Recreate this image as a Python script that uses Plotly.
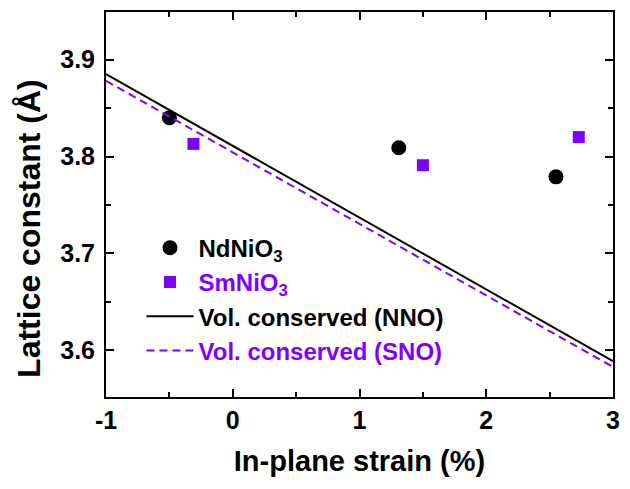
import plotly.graph_objects as go

# Data
nno_strain = [-0.5, 1.31, 2.55]
nno_lattice = [3.840, 3.809, 3.779]
sno_strain = [-0.31, 1.50, 2.73]
sno_lattice = [3.813, 3.791, 3.820]
line_strain = [-1.0, 3.0]
nno_vol_line = [3.885, 3.589]
sno_vol_line = [3.878, 3.583]

x_ticks = [-1, 0, 1, 2, 3]
y_ticks = [3.6, 3.7, 3.8, 3.9]

PURPLE = "#7f00ff"
FONT = "Liberation Sans, Arial, sans-serif"

fig = go.Figure()
fig.add_trace(go.Scatter(x=nno_strain, y=nno_lattice, mode="markers",
                         marker=dict(symbol="circle", size=15, color="black"),
                         name="<b>NdNiO<sub>3</sub></b>"))
fig.add_trace(go.Scatter(x=sno_strain, y=sno_lattice, mode="markers",
                         marker=dict(symbol="square", size=12, color=PURPLE),
                         name=f"<b><span style='color:{PURPLE}'>SmNiO<sub>3</sub></span></b>"))
fig.add_trace(go.Scatter(x=line_strain, y=nno_vol_line, mode="lines",
                         line=dict(color="black", width=2),
                         name="<b>Vol. conserved (NNO)</b>"))
fig.add_trace(go.Scatter(x=line_strain, y=sno_vol_line, mode="lines",
                         line=dict(color=PURPLE, width=2, dash="8px,5px"),
                         name=f"<b><span style='color:{PURPLE}'>Vol. conserved (SNO)</span></b>"))

axis_common = dict(
    showline=True, linecolor="black", linewidth=2, mirror="ticks",
    ticks="inside", ticklen=8, tickwidth=2, tickcolor="black",
    showgrid=False, zeroline=False,
    tickfont=dict(family=FONT, size=25, color="black"),
)

fig.update_xaxes(**axis_common, range=[-1, 3], tickvals=x_ticks,
                 ticktext=[f"<b>{t}</b>" for t in x_ticks],
                 minor=dict(ticks="inside", ticklen=5, tickwidth=2, tickcolor="black", dtick=0.5),
                 title=dict(text="<b>In-plane strain (%)</b>", font=dict(family=FONT, size=29, color="black"), standoff=18))
fig.update_yaxes(**axis_common, range=[3.552, 3.949], tickvals=y_ticks,
                 ticktext=[f"<b>{t:.1f}</b>" for t in y_ticks],
                 ticklabelstandoff=4,
                 minor=dict(ticks="inside", ticklen=5, tickwidth=2, tickcolor="black", dtick=0.05, tick0=3.6))

fig.add_annotation(text="<b>Lattice constant (Å)</b>", textangle=-90,
                   xref="paper", yref="paper", x=-0.152, y=0.439,
                   xanchor="center", yanchor="middle", showarrow=False,
                   font=dict(family=FONT, size=32, color="black"))

fig.update_layout(
    width=630, height=489,
    margin=dict(l=106, r=11, t=10, b=92),
    paper_bgcolor="white", plot_bgcolor="white",
    font=dict(family=FONT, size=24, color="black"),
    legend=dict(x=0.07, y=0.445, xanchor="left", yanchor="top",
                bgcolor="rgba(0,0,0,0)", font=dict(family=FONT, size=24, color="black"),
                tracegroupgap=0, itemwidth=47),
)

fig.write_html("out.html")
